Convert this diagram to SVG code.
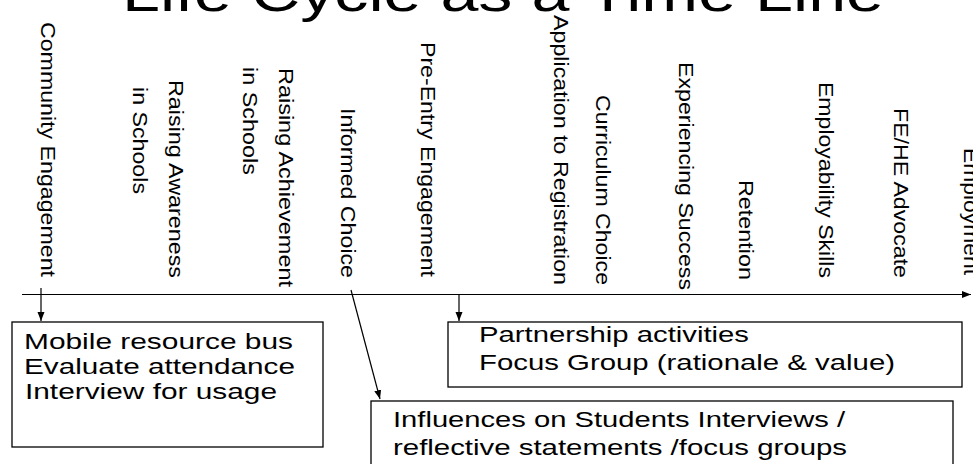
<svg xmlns="http://www.w3.org/2000/svg" width="973" height="464" viewBox="0 0 973 464">
<style>
text{font-family:"Liberation Sans",Arial,sans-serif;fill:#000}
.title{font-size:52px}
.v{font-size:21px}
.b{font-size:22px}
.box{fill:#fff;stroke:#000;stroke-width:1.3}
.ln{fill:none;stroke:#000;stroke-width:1.2}
</style>
<defs>
<marker id="ah" markerUnits="userSpaceOnUse" markerWidth="10" markerHeight="8" refX="9" refY="4" orient="auto">
<path d="M0,0.5 L9,4 L0,7.5 z" fill="#000"/>
</marker>
</defs>
<rect width="973" height="464" fill="#fff"/>
<g id="title"><text class="title" x="122" y="11" textLength="762" lengthAdjust="spacingAndGlyphs">Life Cycle as a Time Line</text></g>

<g id="connectors">
<line class="ln" x1="22" y1="294.5" x2="971" y2="294.5" marker-end="url(#ah)"/>
<line class="ln" x1="41" y1="288" x2="41" y2="321" marker-end="url(#ah)"/>
<line class="ln" x1="459" y1="294.5" x2="459" y2="321" marker-end="url(#ah)"/>
<line class="ln" x1="351" y1="290" x2="380" y2="399" marker-end="url(#ah)"/>
</g>

<g id="community-engagement"><text class="v" transform="translate(41,22) rotate(90)" textLength="255" lengthAdjust="spacingAndGlyphs">Community Engagement</text></g>
<g id="raising-awareness">
<text class="v" transform="translate(169,80) rotate(90)" textLength="198" lengthAdjust="spacingAndGlyphs">Raising Awareness</text>
<text class="v" transform="translate(133,87) rotate(90)" textLength="107" lengthAdjust="spacingAndGlyphs">in Schools</text>
</g>
<g id="raising-achievement">
<text class="v" transform="translate(279,68) rotate(90)" textLength="219" lengthAdjust="spacingAndGlyphs">Raising Achievement</text>
<text class="v" transform="translate(243,67) rotate(90)" textLength="108" lengthAdjust="spacingAndGlyphs">in Schools</text>
</g>
<g id="informed-choice"><text class="v" transform="translate(341,108) rotate(90)" textLength="170" lengthAdjust="spacingAndGlyphs">Informed Choice</text></g>
<g id="pre-entry"><text class="v" transform="translate(421,42) rotate(90)" textLength="235" lengthAdjust="spacingAndGlyphs">Pre-Entry Engagement</text></g>
<g id="application"><text class="v" transform="translate(554,15) rotate(90)" textLength="270" lengthAdjust="spacingAndGlyphs">Application to Registration</text></g>
<g id="curriculum"><text class="v" transform="translate(596,95) rotate(90)" textLength="190" lengthAdjust="spacingAndGlyphs">Curriculum Choice</text></g>
<g id="experiencing"><text class="v" transform="translate(679,62) rotate(90)" textLength="228" lengthAdjust="spacingAndGlyphs">Experiencing Success</text></g>
<g id="retention"><text class="v" transform="translate(739,180) rotate(90)" textLength="100" lengthAdjust="spacingAndGlyphs">Retention</text></g>
<g id="employability"><text class="v" transform="translate(819,82) rotate(90)" textLength="196" lengthAdjust="spacingAndGlyphs">Employability Skills</text></g>
<g id="fehe"><text class="v" transform="translate(894,108) rotate(90)" textLength="170" lengthAdjust="spacingAndGlyphs">FE/HE Advocate</text></g>
<g id="employment"><text class="v" transform="translate(964,148) rotate(90)" textLength="127" lengthAdjust="spacingAndGlyphs">Employment</text></g>

<g id="box-community">
<rect class="box" x="12" y="322" width="311" height="125"/>
<text class="b" x="24" y="349" textLength="269" lengthAdjust="spacingAndGlyphs">Mobile resource bus</text>
<text class="b" x="24" y="374" textLength="271" lengthAdjust="spacingAndGlyphs">Evaluate attendance</text>
<text class="b" x="25" y="399" textLength="252" lengthAdjust="spacingAndGlyphs">Interview for usage</text>
</g>
<g id="box-partnership">
<rect class="box" x="448" y="322" width="514" height="65"/>
<text class="b" x="479" y="342" textLength="270" lengthAdjust="spacingAndGlyphs">Partnership activities</text>
<text class="b" x="479" y="370" textLength="416" lengthAdjust="spacingAndGlyphs">Focus Group (rationale &amp; value)</text>
</g>
<g id="box-influences">
<rect class="box" x="371" y="401" width="582" height="80"/>
<text class="b" x="393" y="427" textLength="452" lengthAdjust="spacingAndGlyphs">Influences on Students Interviews /</text>
<text class="b" x="393" y="455" textLength="454" lengthAdjust="spacingAndGlyphs">reflective statements /focus groups</text>
</g>
</svg>
